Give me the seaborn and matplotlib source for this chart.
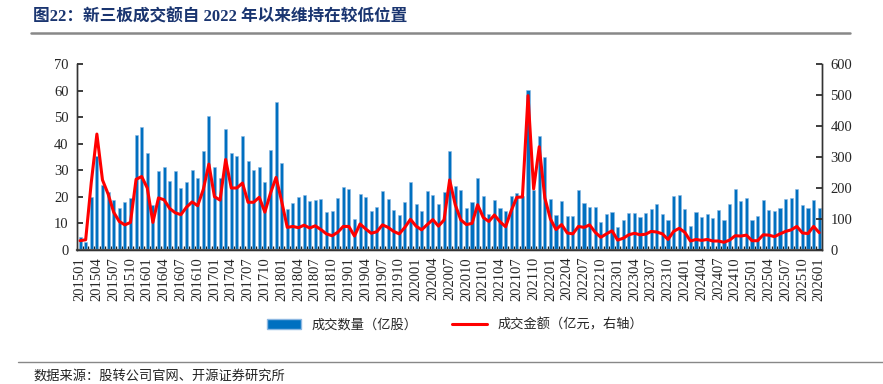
import matplotlib
matplotlib.use("Agg")
import matplotlib.pyplot as plt
import seaborn as sns
import pandas as pd
from matplotlib.lines import Line2D
from matplotlib.patches import Patch

# months 201501 .. 202601
months = [f"{y}{m:02d}" for y in range(2015, 2027) for m in range(1, 13)][:133]

# 成交数量（亿股）
volume = [5.0, 3.0, 20.0, 35.5, 24.5, 22.0, 18.9, 15.9, 18.1, 19.6, 43.4, 46.4,
          36.4, 16.9, 29.9, 31.2, 26.0, 29.6, 23.2, 25.7, 30.0, 27.2, 37.1, 50.6,
          31.2, 27.0, 45.7, 36.6, 35.5, 42.9, 33.4, 30.2, 31.4, 25.5, 37.5, 55.8,
          32.7, 15.5, 17.8, 20.1, 20.7, 18.4, 18.9, 19.3, 14.4, 14.7, 19.6, 23.7,
          23.1, 11.8, 21.0, 20.1, 14.6, 16.2, 22.1, 19.3, 15.2, 13.0, 17.9, 25.7,
          17.4, 14.7, 22.3, 20.8, 17.4, 22.0, 37.3, 24.0, 22.6, 15.9, 18.1, 27.1,
          20.3, 13.6, 18.9, 15.9, 14.7, 20.3, 21.3, 20.5, 60.4, 22.5, 42.8, 35.0,
          19.3, 13.0, 18.6, 12.9, 12.8, 22.7, 17.8, 16.3, 16.2, 10.4, 13.6, 14.2,
          8.8, 11.4, 14.1, 14.1, 12.5, 13.9, 15.4, 17.2, 13.7, 11.3, 20.5, 20.8,
          15.6, 9.2, 14.4, 12.5, 13.6, 12.0, 15.2, 11.2, 17.4, 23.0, 18.4, 19.6,
          11.4, 12.7, 18.7, 15.2, 14.8, 15.9, 19.3, 19.6, 23.1, 16.8, 15.9, 18.8,
          15.9]

# 成交金额（亿元，右轴）
amount = [30, 33, 218, 374, 226, 181, 122, 92, 81, 89, 228, 237,
          200, 89, 168, 162, 134, 120, 114, 138, 155, 143, 195, 277,
          172, 161, 292, 200, 200, 216, 154, 154, 170, 122, 183, 234,
          157, 73, 76, 72, 80, 71, 78, 66, 52, 46, 57, 76,
          76, 45, 84, 68, 54, 59, 81, 73, 60, 52, 73, 99,
          77, 65, 82, 98, 77, 97, 226, 146, 97, 82, 86, 146,
          105, 92, 113, 91, 75, 127, 170, 171, 498, 197, 333, 168,
          100, 66, 82, 55, 52, 76, 73, 81, 57, 41, 52, 62,
          32, 38, 49, 54, 49, 51, 60, 58, 52, 34, 60, 70,
          57, 29, 34, 31, 34, 29, 29, 25, 32, 46, 45, 48,
          30, 30, 49, 48, 43, 52, 60, 65, 76, 55, 53, 76,
          56]

df = pd.DataFrame({"month": months, "volume": volume, "amount": amount})
df["pos"] = range(len(df))

sns.set_theme(style="ticks")
plt.rcParams["font.family"] = ["Liberation Serif", "Noto Sans CJK SC"]
plt.rcParams["axes.unicode_minus"] = False

fig = plt.figure(figsize=(8.83, 3.84), dpi=100)
ax = fig.add_axes([77 / 883, 1 - 250 / 384, 745 / 883, 186 / 384])

sns.barplot(data=df, x="pos", y="volume", color="#0070C0", saturation=1,
            width=0.55, errorbar=None, edgecolor="#8DB8E2", linewidth=0.4, ax=ax)
ax2 = ax.twinx()
sns.lineplot(data=df, x="pos", y="amount", color="#FF0000", linewidth=2.2, ax=ax2)

ax.set_ylim(0, 70)
ax.set_yticks(range(0, 71, 10))
ax2.set_ylim(0, 600)
ax2.set_yticks(range(0, 601, 100))
for a in (ax, ax2):
    a.set_xlim(-0.55, 132.5)
    a.set_xlabel("")
    a.set_ylabel("")

ax.set_xticks(range(0, 133, 3))
ax.set_xticklabels(months[::3], rotation=90, fontsize=10.5,
                   family="Liberation Serif")
ax.set_xticks([k - 0.5 for k in range(1, 133)], minor=True)
ax.tick_params(axis="x", which="major", length=0, pad=5)
ax.tick_params(axis="x", which="minor", length=3, direction="in", color="#222222")
ax.tick_params(axis="y", direction="in", length=4, labelsize=10.5, pad=6)
ax2.tick_params(axis="y", direction="in", length=4, labelsize=10.5, pad=6)

for a in (ax, ax2):
    a.spines["top"].set_visible(False)
    for s in ("left", "right", "bottom"):
        a.spines[s].set_color("#333333")
        a.spines[s].set_linewidth(1.0)
ax.spines["bottom"].set_color("#555555")
ax.spines["bottom"].set_linewidth(1.6)

handles = [Patch(facecolor="#0070C0", edgecolor="#8DB8E2"),
           Line2D([0], [0], color="#FF0000", linewidth=2.2)]
fig.legend(handles, ["成交数量（亿股）", "成交金额（亿元，右轴）"],
           loc="center", bbox_to_anchor=(455 / 883, 1 - 325 / 384), ncol=2,
           frameon=False, handlelength=2.6, handleheight=0.8, columnspacing=2.6,
           prop={"family": "Noto Sans CJK SC", "size": 9.5})

fig.text(33 / 883, 1 - 17 / 384, "图22：新三板成交额自 2022 年以来维持在较低位置",
         ha="left", va="center", fontsize=12, fontweight="bold", color="#1A3570",
         family=["Liberation Serif", "Noto Sans CJK SC"])
fig.add_artist(Line2D([31 / 883, 850 / 883], [1 - 33 / 384] * 2,
                      color="#888888", linewidth=1.8))
fig.add_artist(Line2D([18 / 883, 1.0], [1 - 362 / 384] * 2,
                      color="#888888", linewidth=1.0))
fig.text(33 / 883, 1 - 376 / 384, "数据来源：股转公司官网、开源证券研究所",
         ha="left", va="center", fontsize=9.5, color="#222222",
         family="Noto Sans CJK SC")

fig.savefig("out.png", dpi=100)
